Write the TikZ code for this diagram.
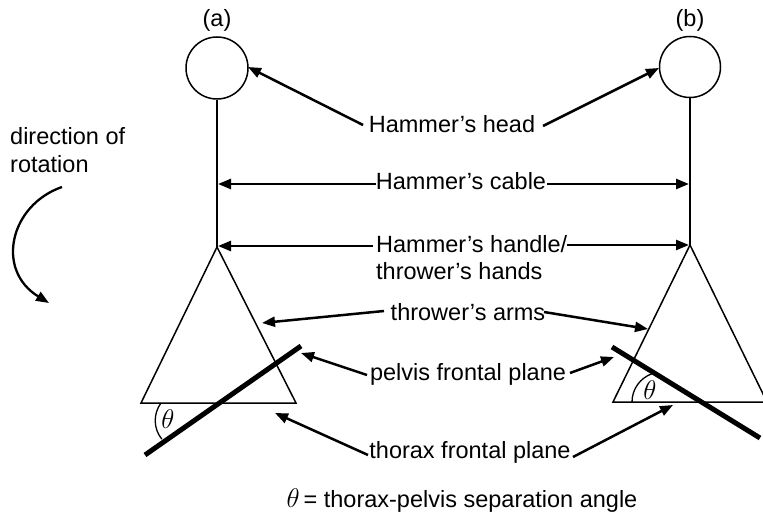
\RequirePackage{fix-cm}
\documentclass[tikz,border=0pt]{standalone}
\usepackage{fontspec}
\setmainfont{Liberation Sans}
\usetikzlibrary{arrows.meta}
\begin{document}
\begin{tikzpicture}[x=1pt,y=-1pt,
  lbl/.style={font=\fontsize{23.5}{28}\selectfont, inner sep=0pt, anchor=base},
  outline/.style={draw=black, line width=1.5pt},
  plane/.style={draw=black, line width=5pt},
  pointer/.style={draw=black, line width=2.5pt, -{Triangle[length=13pt,width=10pt]}},
  anglearc/.style={draw=black, line width=1.3pt},
  anglelbl/.style={font=\fontsize{27}{30}\selectfont, inner sep=0pt}]
\useasboundingbox[fill=white] (0,0) rectangle (763,513);

% ---- hammer (a) ----
\node[lbl] (la) at (217,27) {(a)};
\node[outline, circle, minimum size=62pt, inner sep=0pt] (headA) at (217,68) {};
\coordinate (apexA) at (217,247);
\coordinate (blA) at (141,403);
\coordinate (brA) at (296,403);
\draw[outline] (headA.south) -- (apexA);
\draw[outline, line join=miter] (apexA) -- (blA) -- (brA) -- cycle;
\coordinate (pelA1) at (145,455);
\coordinate (pelA2) at (301,346);
\draw[plane] (pelA1) -- (pelA2);
\draw[anglearc] (161,403) arc[start angle=216.5, end angle=140.7, radius=29.5];
\node[anglelbl] (thA) at (168,419) {$\theta$};

% ---- hammer (b) ----
\node[lbl] (lb) at (690,27) {(b)};
\node[outline, circle, minimum size=61pt, inner sep=0pt] (headB) at (690,67) {};
\coordinate (apexB) at (690,245);
\coordinate (blB) at (613,402);
\coordinate (brB) at (767,402);
\draw[outline] (headB.south) -- (apexB);
\draw[outline, line join=miter] (apexB) -- (blB) -- (brB) -- cycle;
\coordinate (pelB1) at (612,347);
\coordinate (pelB2) at (760,438);
\draw[plane] (pelB1) -- (pelB2);
\draw[anglearc] (632,402) arc[start angle=180, end angle=250.3, radius=30];
\node[anglelbl] (thB) at (650,390) {$\theta$};

% ---- direction of rotation ----
\node[lbl, anchor=base west] (dir1) at (10,145) {direction of};
\node[lbl, anchor=base west] (dir2) at (10,173) {rotation};
\coordinate (rotS) at (62,187);
\coordinate (rotE) at (49,303);
\draw[draw=black, line width=2.3pt, -{Triangle[length=13pt,width=10pt]}]
  (rotS) .. controls (10,205) and (-5,270) .. (rotE);

% ---- labels ----
\node[lbl] (head) at (452,133) {Hammer’s head};
\node[lbl] (cable) at (461,190) {Hammer’s cable};
\node[lbl, anchor=base west] (handle1) at (376,252) {Hammer’s handle/};
\node[lbl, anchor=base west] (handle2) at (376,279) {thrower’s hands};
\node[lbl] (arms) at (468,320) {thrower’s arms};
\node[lbl] (pelvis) at (468,380) {pelvis frontal plane};
\node[lbl] (thorax) at (470,458) {thorax frontal plane};
\node[lbl] (legend) at (462,507) {{\fontsize{27}{30}\selectfont$\theta$}\,= thorax-pelvis separation angle};

% ---- pointer arrows ----
\coordinate (headL) at (363,125);   \coordinate (headLt) at (248,67);
\coordinate (headR) at (543,126);   \coordinate (headRt) at (659,68);
\coordinate (cabL) at (376,184);    \coordinate (cabLt) at (218,184);
\coordinate (cabR) at (547,184);    \coordinate (cabRt) at (689,184);
\coordinate (hanL) at (373,246);    \coordinate (hanLt) at (218,246);
\coordinate (hanR) at (567,245);    \coordinate (hanRt) at (689,245);
\coordinate (armL) at (384,311);    \coordinate (armLt) at (262,323);
\coordinate (armR) at (544,312);    \coordinate (armRt) at (648,329);
\coordinate (pelL) at (367,375);    \coordinate (pelLt) at (301,353);
\coordinate (pelR) at (570,373);    \coordinate (pelRt) at (614,357);
\coordinate (thoL) at (368,455);    \coordinate (thoLt) at (275,413);
\coordinate (thoR) at (573,457);    \coordinate (thoRt) at (673,405);

\foreach \s/\t in {headL/headLt, headR/headRt, cabL/cabLt, cabR/cabRt,
                   hanL/hanLt, hanR/hanRt, armL/armLt, armR/armRt,
                   pelL/pelLt, pelR/pelRt, thoL/thoLt, thoR/thoRt}
  \draw[pointer] (\s) -- (\t);
\end{tikzpicture}
\end{document}
